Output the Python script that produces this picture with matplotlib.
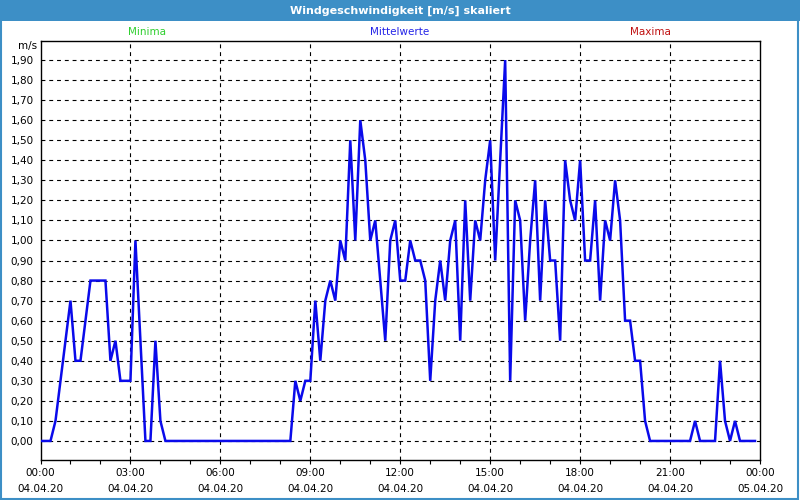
import numpy as np
import matplotlib
matplotlib.use('Agg')
from matplotlib import pyplot as plt
from matplotlib.patches import Rectangle

# Windgeschwindigkeit, 10-Minuten-Werte 04.04.20 00:00 .. 23:50
times = np.arange(144) / 6.0  # Stunden
speed = [
    0.0, 0.0, 0.0, 0.1, 0.3, 0.5, 0.7, 0.4, 0.4, 0.6, 0.8, 0.8,   # 00:00-01:50
    0.8, 0.8, 0.4, 0.5, 0.3, 0.3, 0.3, 1.0, 0.5, 0.0, 0.0, 0.5,   # 02:00-03:50
    0.1, 0.0, 0.0, 0.0, 0.0, 0.0, 0.0, 0.0, 0.0, 0.0, 0.0, 0.0,   # 04:00-05:50
    0.0, 0.0, 0.0, 0.0, 0.0, 0.0, 0.0, 0.0, 0.0, 0.0, 0.0, 0.0,   # 06:00-07:50
    0.0, 0.0, 0.0, 0.3, 0.2, 0.3, 0.3, 0.7, 0.4, 0.7, 0.8, 0.7,   # 08:00-09:50
    1.0, 0.9, 1.5, 1.0, 1.6, 1.4, 1.0, 1.1, 0.8, 0.5, 1.0, 1.1,   # 10:00-11:50
    0.8, 0.8, 1.0, 0.9, 0.9, 0.8, 0.3, 0.7, 0.9, 0.7, 1.0, 1.1,   # 12:00-13:50
    0.5, 1.2, 0.7, 1.1, 1.0, 1.3, 1.5, 0.9, 1.4, 1.9, 0.3, 1.2,   # 14:00-15:50
    1.1, 0.6, 1.0, 1.3, 0.7, 1.2, 0.9, 0.9, 0.5, 1.4, 1.2, 1.1,   # 16:00-17:50
    1.4, 0.9, 0.9, 1.2, 0.7, 1.1, 1.0, 1.3, 1.1, 0.6, 0.6, 0.4,   # 18:00-19:50
    0.4, 0.1, 0.0, 0.0, 0.0, 0.0, 0.0, 0.0, 0.0, 0.0, 0.0, 0.1,   # 20:00-21:50
    0.0, 0.0, 0.0, 0.0, 0.4, 0.1, 0.0, 0.1, 0.0, 0.0, 0.0, 0.0,   # 22:00-23:50
]

xticks = [0, 3, 6, 9, 12, 15, 18, 21, 24]
xtick_labels = ['00:00\n04.04.20', '03:00\n04.04.20', '06:00\n04.04.20',
                '09:00\n04.04.20', '12:00\n04.04.20', '15:00\n04.04.20',
                '18:00\n04.04.20', '21:00\n04.04.20', '00:00\n05.04.20']
yticks = np.round(np.arange(0, 1.91, 0.1), 2)
ytick_labels = ['%.2f' % v for v in yticks]
ytick_labels = [s.replace('.', ',') for s in ytick_labels]

title = 'Windgeschwindigkeit [m/s] skaliert'
bar_blue = '#3d8fc6'

plt.rcParams['font.family'] = ['DejaVu Sans']
fig = plt.figure(figsize=(8, 5), dpi=100)
fig.patch.set_facecolor('white')

# Titelleiste + Rahmen
fig.patches.append(Rectangle((0, 1 - 21 / 500), 1, 21 / 500, transform=fig.transFigure,
                             facecolor=bar_blue, edgecolor='none', zorder=0))
fig.patches.append(Rectangle((0.001, 0.002), 0.997, 0.996, transform=fig.transFigure,
                             facecolor='none', edgecolor=bar_blue, linewidth=1.5, zorder=0))
fig.text(0.5, 1 - 10.5 / 500, title, color='white', fontsize=8, fontweight='bold',
         ha='center', va='center')

fig.text(147 / 800, 1 - 32 / 500, 'Minima', color='#2fcf2f', fontsize=7.5, ha='center', va='center')
fig.text(400 / 800, 1 - 32 / 500, 'Mittelwerte', color='#2424e8', fontsize=7.5, ha='center', va='center')
fig.text(650 / 800, 1 - 32 / 500, 'Maxima', color='#c01010', fontsize=7.5, ha='center', va='center')
fig.text(37 / 800, 1 - 46 / 500, 'm/s', color='black', fontsize=7.5, ha='right', va='center')

ax = fig.add_axes([40.5 / 800, 1 - 460 / 500, 719.5 / 800, 419 / 500])
ax.set_facecolor('white')
ax.plot(times, speed, color='#0a0aeb', linewidth=1.8, solid_joinstyle='miter', zorder=3)

ax.set_xlim(0, 24)
ax.set_ylim(-0.095, 1.995)

ax.set_xticks(xticks)
ax.set_xticklabels(xtick_labels, fontsize=7.5, linespacing=1.65)
ax.set_xticks(np.arange(0, 25, 1), minor=True)
ax.tick_params(axis='x', which='both', direction='out', length=3, width=0.8, pad=3)
ax.set_yticks(yticks)
ax.set_yticklabels(ytick_labels, fontsize=7.5)
ax.tick_params(axis='y', length=0, pad=5)

for v in yticks:
    ax.axhline(v, color='black', linewidth=0.8, linestyle=(0, (3.5, 3.5)), zorder=1)
for h in xticks[1:-1]:
    ax.axvline(h, color='black', linewidth=0.8, linestyle=(0, (3.5, 3.5)), zorder=1)

for s in ax.spines.values():
    s.set_linewidth(1.0)
    s.set_color('black')

fig.savefig('out.png', dpi=100)
